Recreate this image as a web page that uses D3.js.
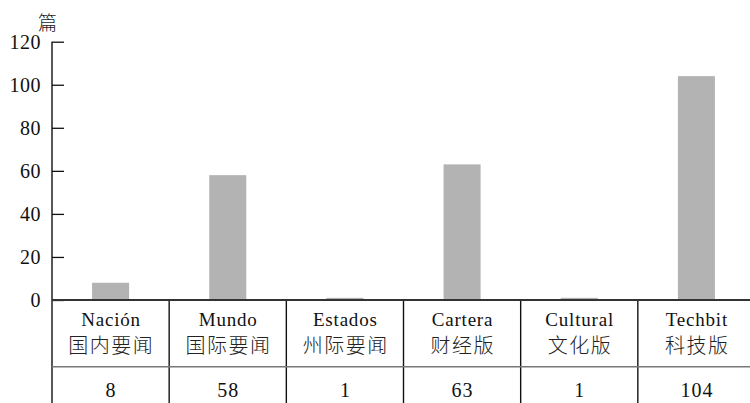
<!DOCTYPE html>
<html>
<head>
<meta charset="utf-8">
<script src="https://cdn.jsdelivr.net/npm/d3@7/dist/d3.min.js"></script>
<style>
  html, body { margin: 0; padding: 0; background: #fff; }
  svg { display: block; }
</style>
</head>
<body>
<svg id="chart" width="750" height="403"></svg>
<script>
// Sections (Spanish name + Chinese name) and article counts
const sectionsEs = ["Nación", "Mundo", "Estados", "Cartera", "Cultural", "Techbit"];
const sectionsZh = ["国内要闻", "国际要闻", "州际要闻", "财经版", "文化版", "科技版"];
const counts = [8, 58, 1, 63, 1, 104];
const yTicks = [0, 20, 40, 60, 80, 100, 120];
const yUnit = "篇";

const SERIF = "'Liberation Serif', 'Times New Roman', Times, 'DejaVu Serif', serif";
const CJK = "'Noto Sans CJK SC', 'Noto Sans CJK JP', sans-serif";

const svg = d3.select("#chart");
const W = 750, H = 403;
const left = 52, right = 755, baseY = 300, topY = 41.7;
const rowLine = 366.7;

const x = d3.scaleBand().domain(sectionsEs).range([left, right]).paddingInner(0).paddingOuter(0);
const y = d3.scaleLinear().domain([0, 120]).range([baseY, topY]);
const barW = x.bandwidth() * 0.316;

function serifText(sel, size) {
  return sel.style("font-family", SERIF).style("font-size", size + "px").style("fill", "#111");
}
function cjkText(sel, size) {
  return sel.style("font-family", CJK).style("font-weight", 300).style("font-size", size + "px").style("fill", "#222");
}

// Bars
svg.append("g").selectAll("rect")
  .data(sectionsEs.map((s, i) => ({ s, v: counts[i] })))
  .join("rect")
  .attr("x", d => x(d.s) + x.bandwidth() / 2 - barW / 2)
  .attr("y", d => y(d.v))
  .attr("width", barW)
  .attr("height", d => y(0) - y(d.v))
  .attr("fill", "#b3b3b3");

// Y axis with inward ticks
const yAxis = d3.axisRight(y).tickValues(yTicks).tickSize(12).tickFormat("");
const gy = svg.append("g").attr("transform", `translate(${left},0)`).call(yAxis);
gy.select(".domain").remove();
gy.selectAll(".tick line").attr("stroke", "#111").attr("stroke-width", 1.3);

// Tick labels
svg.append("g").selectAll("text")
  .data(yTicks)
  .join("text")
  .attr("x", 41)
  .attr("y", d => y(d))
  .attr("dy", "0.35em")
  .attr("text-anchor", "end")
  .attr("letter-spacing", 0.5)
  .call(serifText, 20)
  .text(d => d);

// Unit label
svg.append("text")
  .attr("x", 47.5)
  .attr("y", 21)
  .attr("dominant-baseline", "central")
  .attr("text-anchor", "middle")
  .call(cjkText, 19)
  .text(yUnit);

// Vertical axis line, running down through the table
svg.append("line")
  .attr("x1", left).attr("x2", left)
  .attr("y1", topY).attr("y2", H)
  .attr("stroke", "#111").attr("stroke-width", 1.4);

// Column dividers in the table
svg.append("g").selectAll("line")
  .data(sectionsEs.slice(1))
  .join("line")
  .attr("x1", d => x(d)).attr("x2", d => x(d))
  .attr("y1", baseY).attr("y2", H)
  .attr("stroke", "#111").attr("stroke-width", 1.4);

// Baseline / table top
svg.append("line")
  .attr("x1", left).attr("x2", W)
  .attr("y1", baseY).attr("y2", baseY)
  .attr("stroke", "#333").attr("stroke-width", 1.8);

// Row separator
svg.append("line")
  .attr("x1", left).attr("x2", W)
  .attr("y1", rowLine).attr("y2", rowLine)
  .attr("stroke", "#777").attr("stroke-width", 1.6);

const cx = s => x(s) + x.bandwidth() / 2;

// Spanish section names
svg.append("g").selectAll("text")
  .data(sectionsEs)
  .join("text")
  .attr("x", d => cx(d) + 0.4)
  .attr("y", 325.5)
  .attr("text-anchor", "middle")
  .attr("letter-spacing", 0.8)
  .call(serifText, 19)
  .text(d => d);

// Chinese section names
svg.append("g").selectAll("text")
  .data(sectionsZh)
  .join("text")
  .attr("x", (d, i) => cx(sectionsEs[i]) + 0.75)
  .attr("y", 344.5)
  .attr("dominant-baseline", "central")
  .attr("text-anchor", "middle")
  .attr("letter-spacing", 1.5)
  .call(cjkText, 20)
  .text(d => d);

// Count row
svg.append("g").selectAll("text")
  .data(counts)
  .join("text")
  .attr("x", (d, i) => cx(sectionsEs[i]) + 0.5)
  .attr("y", 396.5)
  .attr("text-anchor", "middle")
  .attr("letter-spacing", 1)
  .call(serifText, 20)
  .text(d => d);
</script>
</body>
</html>
